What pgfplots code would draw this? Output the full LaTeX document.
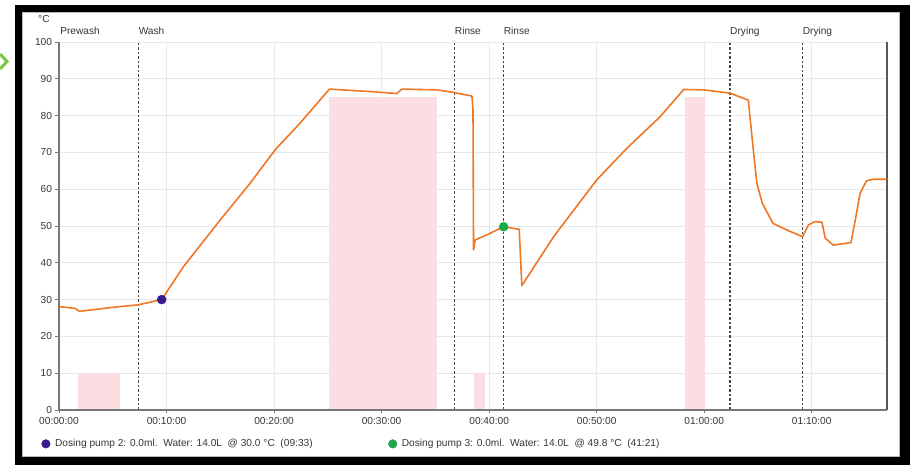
\documentclass[border=0pt]{standalone}
\usepackage{pgfplots}
\pgfplotsset{compat=1.18}
\usepackage{fontspec}
\setmainfont{Liberation Sans}

\definecolor{curve}{RGB}{240,120,36}
\definecolor{band}{RGB}{252,221,226}
\definecolor{gridc}{RGB}{232,232,232}
\definecolor{phase}{RGB}{70,70,70}
\definecolor{pumptwo}{RGB}{56,28,140}
\definecolor{pumpthree}{RGB}{28,168,72}
\definecolor{txt}{RGB}{55,55,55}
\definecolor{arrowg}{RGB}{125,196,66}
\definecolor{axisc}{RGB}{120,120,120}

% temperature trace of the programme, time in minutes
\pgfplotstableread{
t     T
0     28.1
1.5   27.6
1.9   26.8
5.0   27.9
7.4   28.6
9.55  30.0
11.56 38.9
14.98 51.6
17.77 61.6
20.1  70.7
22.4  77.9
25.15 87.2
29.1  86.5
31.4  86.0
31.9  87.2
35.1  87.0
36.7  86.3
38.4  85.3
38.5  81.5
38.55 43.5
38.7  46.2
39.8  47.6
41.35 49.8
42.8  49.1
43.04 33.8
46.0  47.1
50.0  62.5
52.8  71.1
55.9  79.7
58.1  87.1
59.9  87.0
62.4  86.1
64.1  84.2
64.6  69.8
64.9  61.6
65.4  56.2
66.4  50.7
67.7  48.9
69.15 47.1
69.7  50.3
70.3  51.2
70.95 51.0
71.26 46.7
72.0  44.8
73.65 45.5
74.05 51.6
74.5  58.9
75.1  62.3
75.75 62.7
77.0  62.7
}\temptrace

\begin{document}
\begin{tikzpicture}[font=\fontsize{10.2}{12}\selectfont]
\useasboundingbox (0bp,0bp) rectangle (910bp,465bp);
% window frame
\fill[black] (15bp,0bp) rectangle (910bp,460bp);
\fill[white] (22bp,8bp) rectangle (900bp,453bp);
\draw[gray!55,line width=1bp] (22.5bp,8.5bp) rectangle (899.5bp,452.5bp);
\draw[arrowg,line width=3bp] (0bp,411bp) -- (7bp,403.5bp) -- (0bp,396bp);

\begin{axis}[
  at={(59bp,55bp)}, anchor=south west,
  scale only axis, width=828bp, height=368bp,
  xmin=0, xmax=77, ymin=0, ymax=100,
  clip=false,
  axis line style={draw=none},
  tick pos=left, tick align=outside,
  major tick length=3.5bp,
  tick style={draw=axisc,line width=0.8bp},
  xtick={0,10,...,70},
  xticklabels={00:00:00,00:10:00,00:20:00,00:30:00,00:40:00,00:50:00,01:00:00,01:10:00},
  ytick={0,10,...,100},
  grid=major, major grid style={gridc,line width=0.8bp},
  tick label style={txt},
  /pgf/number format/assume math mode=true,
  legend columns=2,
  legend style={at={(-0.0215,-0.092)}, anchor=west, draw=none, fill=none,
    inner sep=0pt, font=\fontsize{10.2}{12}\selectfont, text=txt,
    /tikz/every even column/.append style={column sep=73.5bp}},
]
% pump activity bands
\addplot[fill=band, draw=none, forget plot] coordinates {(1.74,0) (1.74,10) (5.67,10) (5.67,0)} -- cycle;
\addplot[fill=band, draw=none, forget plot] coordinates {(25.15,0) (25.15,85) (35.13,85) (35.13,0)} -- cycle;
\addplot[fill=band, draw=none, forget plot] coordinates {(38.6,0) (38.6,10) (39.6,10) (39.6,0)} -- cycle;
\addplot[fill=band, draw=none, forget plot] coordinates {(58.2,0) (58.2,85) (60.1,85) (60.1,0)} -- cycle;

% phase boundaries
\addplot[phase, line width=1.3bp, dash pattern=on 2.5bp off 2bp, forget plot] coordinates {(7.4,0) (7.4,100)};
\addplot[phase, line width=1.3bp, dash pattern=on 2.5bp off 2bp, forget plot] coordinates {(36.8,0) (36.8,100)};
\addplot[phase, line width=1.3bp, dash pattern=on 2.5bp off 2bp, forget plot] coordinates {(41.35,0) (41.35,100)};
\addplot[phase, line width=1.3bp, dash pattern=on 2.5bp off 2bp, forget plot] coordinates {(62.4,0) (62.4,100)};
\addplot[phase, line width=1.3bp, dash pattern=on 2.5bp off 2bp, forget plot] coordinates {(69.15,0) (69.15,100)};

% axis lines: left, bottom, right
\draw[axisc, line width=1.2bp] (rel axis cs:0,1) -- (rel axis cs:0,0) -- (rel axis cs:1,0);
\draw[gray!70!black, line width=1.2bp] (rel axis cs:1,0) -- (rel axis cs:1,1);

% temperature
\addplot[curve, line width=1.6bp, line join=round, forget plot] table[x=t, y=T] {\temptrace};

% dosing events
\addplot[only marks, mark=*, mark size=4.5bp, draw=pumptwo, fill=pumptwo,
  legend image code/.code={\fill[pumptwo] (0.1cm,0) circle (4.3bp); \path (0.1cm,0) ++(7bp,0);}]
  coordinates {(9.55,30.0)};
\addlegendentry{Dosing pump 2: 0.0ml.\ \ Water: 14.0L\ \ @ 30.0 °C\ \ (09:33)}
\addplot[only marks, mark=*, mark size=4.5bp, draw=pumpthree, fill=pumpthree,
  legend image code/.code={\fill[pumpthree] (0.1cm,0) circle (4.3bp); \path (0.1cm,0) ++(7bp,0);}]
  coordinates {(41.35,49.8)};
\addlegendentry{Dosing pump 3: 0.0ml.\ \ Water: 14.0L\ \ @ 49.8 °C\ \ (41:21)}

% phase names
\node[anchor=base west, inner sep=0pt, text=txt] at (axis cs:0.1,100) [yshift=7.3bp] {Prewash};
\node[anchor=base west, inner sep=0pt, text=txt] at (axis cs:7.4,100) [yshift=7.3bp] {Wash};
\node[anchor=base west, inner sep=0pt, text=txt] at (axis cs:36.8,100) [yshift=7.3bp] {Rinse};
\node[anchor=base west, inner sep=0pt, text=txt] at (axis cs:41.35,100) [yshift=7.3bp] {Rinse};
\node[anchor=base west, inner sep=0pt, text=txt] at (axis cs:62.4,100) [yshift=7.3bp] {Drying};
\node[anchor=base west, inner sep=0pt, text=txt] at (axis cs:69.15,100) [yshift=7.3bp] {Drying};
\node[anchor=base west, inner sep=0pt, text=txt] at (rel axis cs:0,1) [xshift=-21bp, yshift=19bp] {°C};
\end{axis}
\end{tikzpicture}
\end{document}
